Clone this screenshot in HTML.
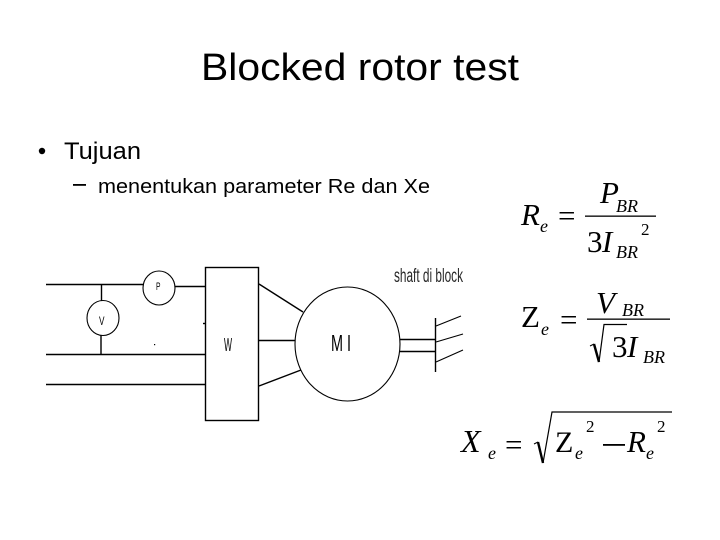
<!DOCTYPE html>
<html><head><meta charset="utf-8"><style>
html,body{margin:0;padding:0;background:#fff;width:720px;height:540px;overflow:hidden}
svg{display:block}
.s{font-family:"Liberation Sans",sans-serif;fill:#000}
.m{font-family:"Liberation Serif",serif;font-style:italic;fill:#000}
.n{font-family:"Liberation Serif",serif;fill:#000}
.l{stroke:#000;stroke-width:1.4;fill:none}
</style></head><body>
<svg width="720" height="540" viewBox="0 0 720 540" xmlns="http://www.w3.org/2000/svg">
<text class="s" x="201" y="80" font-size="38" textLength="318" lengthAdjust="spacingAndGlyphs">Blocked rotor test</text>
<circle cx="42" cy="151" r="3.2" fill="#000"/>
<text class="s" x="64" y="159" font-size="24" textLength="77" lengthAdjust="spacingAndGlyphs">Tujuan</text>
<rect x="73" y="184" width="13" height="1.8" fill="#000"/>
<text class="s" x="98" y="193" font-size="20.5" textLength="332" lengthAdjust="spacingAndGlyphs">menentukan parameter Re dan Xe</text>

<g class="l">
<path d="M46 284.5H144M175 286.5H205.5M46 354.5H205.5M46 384.5H205.5"/>
<path d="M101.5 284.5V301M101 335V354.5"/>
<ellipse cx="159" cy="288" rx="16" ry="17" stroke-width="1.1"/>
<ellipse cx="103" cy="318" rx="16" ry="17.5" stroke-width="1.1"/>
<rect x="205.5" y="267.5" width="53" height="153"/>
<path d="M203 323.5H206"/>
<path d="M259 284L303 312M259 340.5H295M259 386L301 370"/>
<ellipse cx="347.5" cy="344" rx="52.5" ry="57" stroke-width="1.1"/>
<path d="M400 339.5H435M400 351.5H435M435.5 318V372"/>
<path d="M436 326L461 316M436 342L463 334M436 362L463 350" stroke-width="1.1"/>
</g>
<rect x="154" y="344" width="1.2" height="1.2" fill="#000"/>
<text class="s" x="156" y="290" font-size="11" textLength="4.5" lengthAdjust="spacingAndGlyphs">P</text>
<text class="s" x="99" y="325" font-size="12" textLength="5.5" lengthAdjust="spacingAndGlyphs">V</text>
<text class="s" x="224" y="351" font-size="18" textLength="8" lengthAdjust="spacingAndGlyphs">W</text>
<text class="s" x="331" y="351" font-size="23" textLength="20" lengthAdjust="spacingAndGlyphs">M I</text>
<text class="s" x="394" y="282" font-size="19" textLength="69" lengthAdjust="spacingAndGlyphs" opacity=".85">shaft di block</text>

<!-- Re -->
<text class="m" x="521" y="225" font-size="31">R</text>
<text class="m" x="540" y="232" font-size="18">e</text>
<text class="n" x="558" y="226" font-size="31">=</text>
<rect x="585" y="215.5" width="71" height="1.3" fill="#000"/>
<text class="m" x="600" y="203" font-size="31">P</text>
<text class="m" x="616" y="212" font-size="18">BR</text>
<text class="n" x="587" y="252" font-size="31">3</text>
<text class="m" x="602" y="252" font-size="31">I</text>
<text class="m" x="616" y="258" font-size="18">BR</text>
<text class="n" x="641" y="235" font-size="17">2</text>

<!-- Ze -->
<text class="n" x="521" y="327" font-size="31">Z</text>
<text class="m" x="541" y="335" font-size="18">e</text>
<text class="n" x="560" y="330" font-size="31">=</text>
<rect x="587" y="318.5" width="83" height="1.3" fill="#000"/>
<text class="m" x="596" y="313" font-size="31">V</text>
<text class="m" x="622" y="316" font-size="18">BR</text>
<path d="M590 346L594 344" fill="none" stroke="#000" stroke-width="1"/>
<path d="M594 344L599 362" fill="none" stroke="#000" stroke-width="2.4"/>
<path d="M599 362L604 324.5H627" fill="none" stroke="#000" stroke-width="1.2"/>
<text class="n" x="612" y="357" font-size="31">3</text>
<text class="m" x="627" y="357" font-size="31">I</text>
<text class="m" x="643" y="363" font-size="18">BR</text>

<!-- Xe -->
<text class="m" x="461" y="452" font-size="32">X</text>
<text class="m" x="488" y="459" font-size="18">e</text>
<text class="n" x="505" y="455" font-size="31">=</text>
<path d="M534 444L538 442" fill="none" stroke="#000" stroke-width="1"/>
<path d="M538 442L543 463" fill="none" stroke="#000" stroke-width="2.4"/>
<path d="M543 463L552 412H672" fill="none" stroke="#000" stroke-width="1.2"/>
<text class="n" x="555" y="452" font-size="30">Z</text>
<text class="m" x="575" y="459" font-size="18">e</text>
<text class="n" x="586" y="432" font-size="17">2</text>
<rect x="603" y="444" width="22" height="1.8" fill="#000"/>
<text class="m" x="627" y="452" font-size="31">R</text>
<text class="m" x="646" y="459" font-size="18">e</text>
<text class="n" x="657" y="432" font-size="17">2</text>
</svg>
</body></html>
